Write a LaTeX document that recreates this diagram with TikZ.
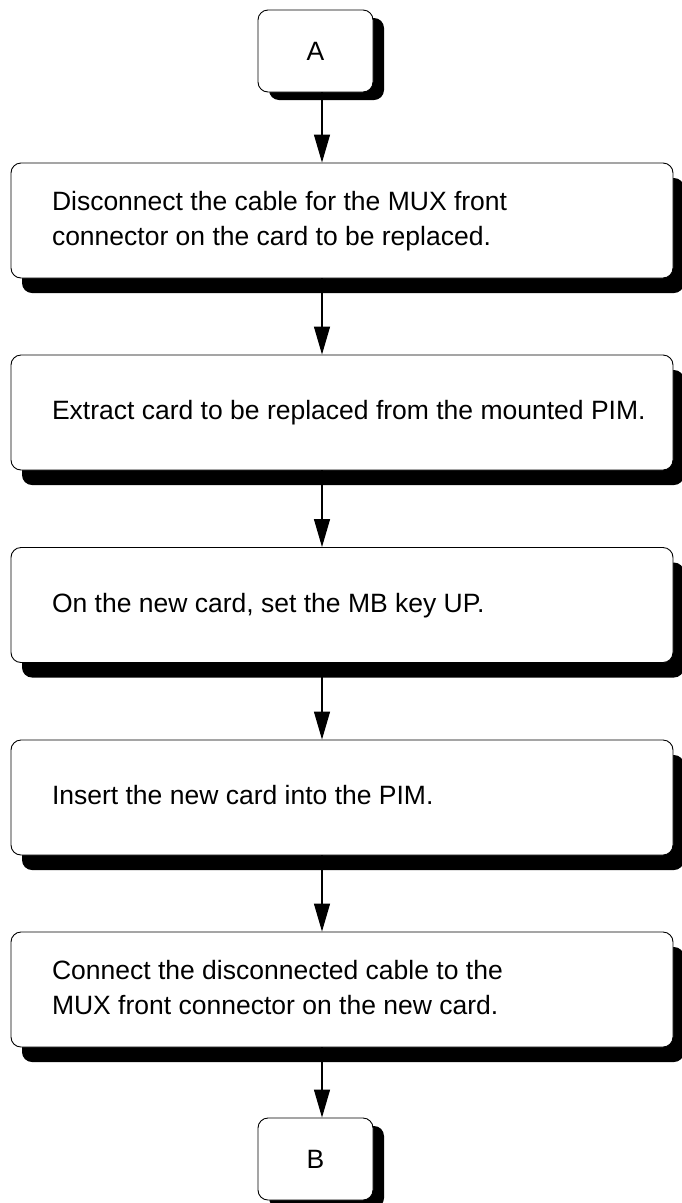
\documentclass[tikz,border=0pt]{standalone}
\usepackage{fontspec}
\setmainfont{Liberation Sans}
\usetikzlibrary{arrows.meta,shadows}
\tikzset{
  bigbox/.style={draw=black, line width=0.9pt, fill=white, rounded corners=10pt,
    minimum width=662pt, minimum height=115pt, inner xsep=41pt, inner ysep=0pt,
    drop shadow={shadow xshift=11pt, shadow yshift=-15pt, fill=black, opacity=1}},
  termbox/.style={draw=black, line width=0.9pt, fill=white, rounded corners=10pt,
    minimum width=115pt, minimum height=82pt, inner sep=0pt,
    drop shadow={shadow xshift=11pt, shadow yshift=-8pt, fill=black, opacity=1}},
  arr/.style={line width=1.3pt, -{Triangle[length=28pt,width=16pt]}},
}
\newcommand{\boxtext}[1]{\makebox[580pt][l]{\fontsize{26.5}{35}\selectfont\begin{tabular}{@{}l@{}}#1\end{tabular}}}
\begin{document}
\begin{tikzpicture}[x=1pt,y=1pt]
\useasboundingbox (0,0) rectangle (681,-1203);
\node[termbox, font=\fontsize{26.5}{35}\selectfont] (A) at (315.5,-51) {A};
\node[bigbox] (b1) at (342,-220.5) {\boxtext{Disconnect the cable for the MUX front\\connector on the card to be replaced.}};
\node[bigbox] (b2) at (342,-412.5) {\boxtext{Extract card to be replaced from the mounted PIM.}};
\node[bigbox] (b3) at (342,-605) {\boxtext{On the new card, set the MB key UP.}};
\node[bigbox] (b4) at (342,-797.5) {\boxtext{Insert the new card into the PIM.}};
\node[bigbox] (b5) at (342,-989.5) {\boxtext{Connect the disconnected cable to the\\MUX front connector on the new card.}};
\node[termbox, font=\fontsize{26.5}{35}\selectfont] (B) at (315.5,-1159) {B};
\coordinate (col) at (322,0);
\draw[arr] (A.south -| col) -- (b1.north -| col);
\draw[arr] (b1.south -| col) -- (b2.north -| col);
\draw[arr] (b2.south -| col) -- (b3.north -| col);
\draw[arr] (b3.south -| col) -- (b4.north -| col);
\draw[arr] (b4.south -| col) -- (b5.north -| col);
\draw[arr] (b5.south -| col) -- (B.north -| col);
\end{tikzpicture}
\end{document}
